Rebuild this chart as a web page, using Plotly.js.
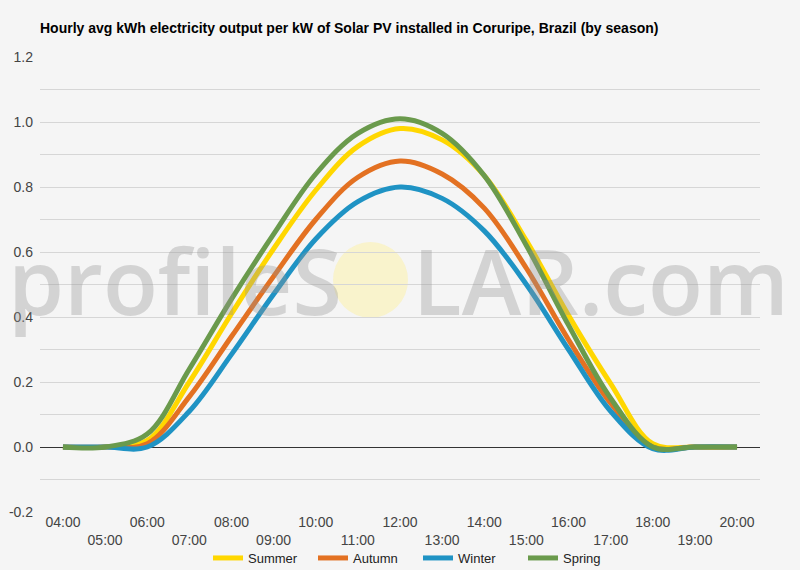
<!DOCTYPE html>
<html>
<head>
<meta charset="utf-8">
<script src="https://cdn.plot.ly/plotly-3.0.1.min.js"></script>
<style>
html,body{margin:0;padding:0;background:#f5f5f5;}
#chart{width:800px;height:570px;}
</style>
</head>
<body>
<div id="chart"></div>
<script>
var hours = ['04:00','05:00','06:00','07:00','08:00','09:00','10:00','11:00','12:00','13:00','14:00','15:00','16:00','17:00','18:00','19:00','20:00'];
var summer = [0, 0, 0.02, 0.20, 0.41, 0.61, 0.79, 0.925, 0.98, 0.945, 0.835, 0.635, 0.405, 0.195, 0.01, 0, 0];
var autumn = [0, 0, 0.01, 0.155, 0.34, 0.525, 0.70, 0.83, 0.88, 0.84, 0.735, 0.55, 0.33, 0.135, 0, 0, 0];
var winter = [0, 0, 0, 0.11, 0.285, 0.47, 0.64, 0.755, 0.80, 0.765, 0.665, 0.50, 0.30, 0.11, -0.005, 0, 0];
var spring = [0, 0, 0.04, 0.24, 0.455, 0.655, 0.84, 0.965, 1.01, 0.965, 0.835, 0.62, 0.375, 0.15, 0, 0, 0];
var seriesNames = ['Summer','Autumn','Winter','Spring'];
var seriesColors = ['#FFD700','#E37122','#1F93C4','#6A9A4C'];
var seriesData = [summer, autumn, winter, spring];
var yTicks = [-0.2, 0.0, 0.2, 0.4, 0.6, 0.8, 1.0, 1.2];
var title = 'Hourly avg kWh electricity output per kW of Solar PV installed in Coruripe, Brazil (by season)';

var xIdx = hours.map(function(h,i){return i;});
var tickText = hours.map(function(h,i){return i % 2 === 0 ? h : '<br>' + h;});

var traces = seriesData.map(function(vals, k){
  return {
    x: xIdx, y: vals, type: 'scatter', mode: 'lines', name: seriesNames[k],
    line: {color: seriesColors[k], width: 5, shape: 'spline', smoothing: 1},
    hoverinfo: 'skip'
  };
});

var W = 800, H = 570, L = 40, R = 40, T = 57, B = 58;
function px(x){ return (x - L) / (W - L - R); }
function py(y){ return (H - B - y) / (H - T - B); }

var layout = {
  width: W, height: H,
  paper_bgcolor: '#f5f5f5', plot_bgcolor: '#f5f5f5',
  margin: {l: L, r: R, t: T, b: B, autoexpand: false},
  font: {family: 'Arial, "Liberation Sans", sans-serif', size: 13, color: '#444'},
  title: {text: '<b>' + title + '</b>', x: 0, xref: 'paper', xanchor: 'left', y: 1 - 28/H, yanchor: 'middle', font: {size: 14, color: '#000'}},
  xaxis: {
    range: [-0.545, 16.545], tickvals: xIdx, ticktext: tickText,
    showgrid: false, zeroline: false, showline: false, ticks: '',
    automargin: false, tickfont: {size: 14, color: '#444'}, fixedrange: true
  },
  yaxis: {
    range: [-0.2, 1.2], tickvals: yTicks, ticktext: yTicks.map(function(v){return v.toFixed(1);}),
    showgrid: true, gridcolor: '#d6d6d6', gridwidth: 1,
    minor: {dtick: 0.1, tick0: 0, showgrid: true, gridcolor: '#d6d6d6', gridwidth: 1},
    zeroline: true, zerolinecolor: '#333', zerolinewidth: 1,
    showline: false, ticks: '', ticklabelstandoff: 6, automargin: false,
    tickfont: {size: 14, color: '#444'}, fixedrange: true
  },
  showlegend: true,
  legend: {orientation: 'h', x: 0.5 + 18/W, xanchor: 'center', xref: 'container', y: 1 - 558/H, yanchor: 'middle', yref: 'container',
           font: {size: 13, color: '#222'}, itemwidth: 30, entrywidth: 60, bgcolor: 'rgba(0,0,0,0)'},
  shapes: [{
    type: 'circle', xref: 'paper', yref: 'paper', layer: 'below',
    x0: px(333), x1: px(408), y0: py(318), y1: py(242),
    fillcolor: 'rgba(250,242,190,0.75)', line: {width: 0}
  }],
  annotations: [{
    text: 'profileS<span style="color:rgba(0,0,0,0)">O</span>LAR.com',
    xref: 'paper', yref: 'paper', x: px(398), y: py(280), xanchor: 'center', yanchor: 'middle',
    showarrow: false, font: {family: '"Open Sans", Arial, sans-serif', size: 90, weight: 600, color: 'rgba(150,150,150,0.35)'}
  }]
};

Plotly.newPlot('chart', traces, layout, {staticPlot: true, displayModeBar: false});
</script>
</body>
</html>
